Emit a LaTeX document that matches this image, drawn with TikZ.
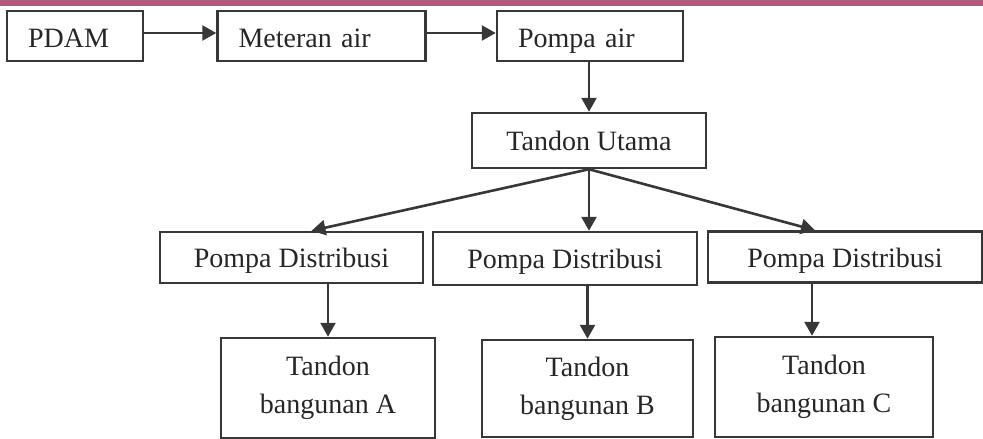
\documentclass[tikz,border=0pt]{standalone}
\usepackage{fontspec}
\setmainfont{Liberation Serif}
\usetikzlibrary{arrows.meta,positioning}
\definecolor{garis}{RGB}{55,55,55}
\definecolor{pita}{RGB}{172,92,124}

\begin{document}
\begin{tikzpicture}[x=1pt,y=-1pt,
    blok/.style={draw=garis,line width=2.5pt,inner sep=0pt,align=center,text=black!85,font=\fontsize{28}{38}\selectfont},
    satu/.style={blok,text height=22pt,text depth=2pt},
    atas/.style={blok,text height=24pt,text depth=2pt,minimum height=50pt,inner xsep=21pt,text width=#1,align=left},
    panah/.style={-{Triangle[length=14pt,width=15pt]},line width=2.6pt,draw=garis}
  ]
    \useasboundingbox (0,0) rectangle (983,439);
    \fill[pita] (0,0) rectangle (983,6);

    % aliran dari PDAM
    \node[atas=94pt] (pdam) at (75,36) {PDAM};
    \node[atas=166pt,right=72pt of pdam] (meter) {Meteran air};
    \node[atas=144pt,right=69pt of meter] (pompa) {Pompa air};
    \node[satu,minimum width=234pt,minimum height=55pt] (utama) at (589,140.5) {Tandon Utama};

    % pompa distribusi
    \node[satu,minimum width=263pt,minimum height=51pt] (pd1) at (291.5,257.5) {Pompa Distribusi};
    \node[satu,minimum width=264pt,minimum height=53pt] (pd2) at (565,258.5) {Pompa Distribusi};
    \node[satu,minimum width=274pt,minimum height=51pt] (pd3) at (845,257) {Pompa Distribusi};

    % tandon tiap bangunan
    \node[blok,minimum width=214pt,minimum height=100pt] (ta) at (328,388) {Tandon\\bangunan A};
    \node[blok,minimum width=211pt,minimum height=97pt] (tb) at (587.5,388.5) {Tandon\\bangunan B};
    \node[blok,minimum width=218pt,minimum height=100pt] (tc) at (824,387) {Tandon\\bangunan C};

    \draw[panah] ([yshift=3pt]pdam.east) -- ([yshift=3pt]meter.west);
    \draw[panah] ([yshift=3pt]meter.east) -- ([yshift=3pt]pompa.west);
    \draw[panah] (pompa.south -| utama) -- (utama.north);
    \draw[panah] (utama.south) -- ([xshift=20pt]pd1.north);
    \draw[panah] (utama.south) -- (utama.south |- pd2.north);
    \draw[panah] (utama.south) -- ([xshift=-30pt]pd3.north);
    \draw[panah] (pd1.south -| ta) -- (ta.north);
    \draw[panah] (tb.north |- pd2.south) -- (tb.north);
    \draw[panah] ([xshift=-12pt]tc.north |- pd3.south) -- ([xshift=-12pt]tc.north);
  \end{tikzpicture}
\end{document}
